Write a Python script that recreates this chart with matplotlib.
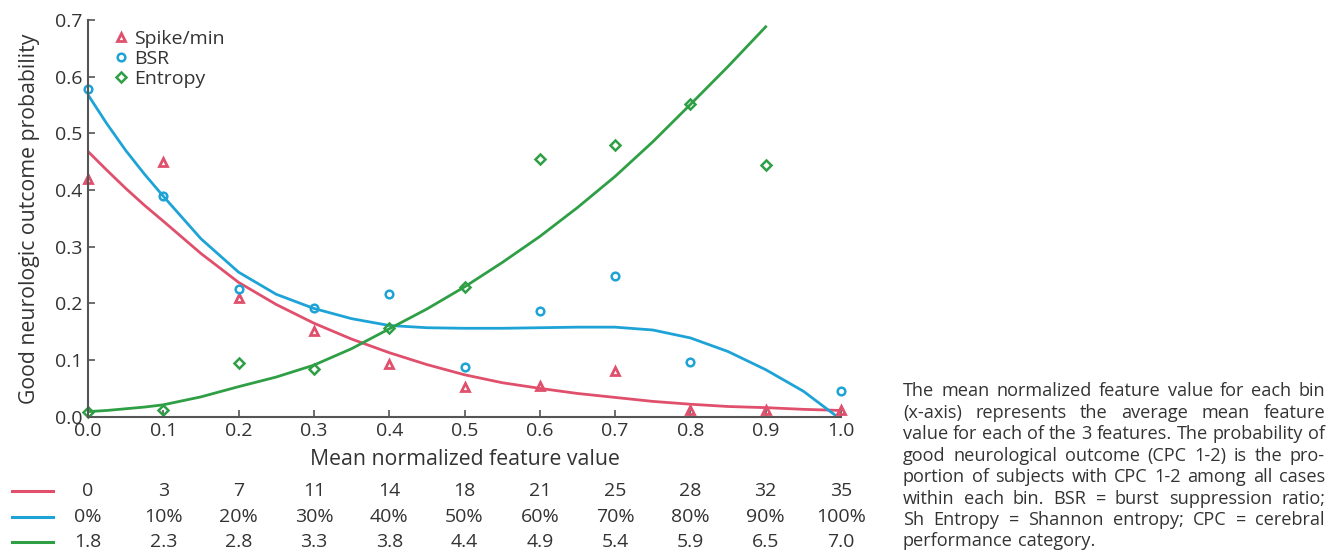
import numpy as np
import matplotlib
matplotlib.use("Agg")
import matplotlib.pyplot as plt
from matplotlib.lines import Line2D

plt.rcParams['font.family'] = ['Open Sans', 'DejaVu Sans']

# observed bin values
bins = [0.0, 0.1, 0.2, 0.3, 0.4, 0.5, 0.6, 0.7, 0.8, 0.9, 1.0]
spike_pts = [0.42, 0.45, 0.21, 0.151, 0.093, 0.053, 0.054, 0.08, 0.012, 0.012, 0.012]
bsr_x = [0.0, 0.1, 0.2, 0.3, 0.4, 0.5, 0.6, 0.7, 0.8, 1.0]
bsr_pts = [0.579, 0.389, 0.225, 0.191, 0.216, 0.087, 0.186, 0.249, 0.097, 0.045]
ent_x = [0.0, 0.1, 0.2, 0.3, 0.4, 0.5, 0.6, 0.7, 0.8, 0.9]
ent_pts = [0.009, 0.011, 0.095, 0.085, 0.157, 0.228, 0.454, 0.479, 0.551, 0.445]

# fitted curves
fit_x = [0.0, 0.025, 0.05, 0.075, 0.1, 0.15, 0.2, 0.25, 0.3, 0.35, 0.4, 0.45, 0.5,
         0.55, 0.6, 0.65, 0.7, 0.75, 0.8, 0.85, 0.9, 0.95, 1.0]
spike_fit = [0.468, 0.435, 0.403, 0.373, 0.345, 0.288, 0.237, 0.198, 0.165, 0.137, 0.113,
             0.092, 0.074, 0.060, 0.050, 0.041, 0.034, 0.027, 0.022, 0.018, 0.016, 0.013, 0.011]
bsr_fit_x = fit_x[:-1] + [0.992]
bsr_fit = [0.568, 0.517, 0.470, 0.428, 0.389, 0.314, 0.255, 0.216, 0.191, 0.173, 0.161,
           0.157, 0.156, 0.156, 0.157, 0.158, 0.158, 0.153, 0.139, 0.115, 0.083, 0.045, 0.003]
ent_fit_x = fit_x[:21]
ent_fit = [0.009, 0.011, 0.014, 0.017, 0.021, 0.035, 0.053, 0.070, 0.091, 0.120, 0.155,
           0.190, 0.229, 0.272, 0.318, 0.369, 0.424, 0.485, 0.551, 0.618, 0.688]

# table under the x axis
spike_row = ["0", "3", "7", "11", "14", "18", "21", "25", "28", "32", "35"]
bsr_row = ["0%", "10%", "20%", "30%", "40%", "50%", "60%", "70%", "80%", "90%", "100%"]
ent_row = ["1.8", "2.3", "2.8", "3.3", "3.8", "4.4", "4.9", "5.4", "5.9", "6.5", "7.0"]

caption = [
    "The mean normalized feature value for each bin",
    "(x-axis) represents the average mean feature",
    "value for each of the 3 features. The probability of",
    "good neurological outcome (CPC 1-2) is the pro-",
    "portion of subjects with CPC 1-2 among all cases",
    "within each bin. BSR = burst suppression ratio;",
    "Sh Entropy = Shannon entropy; CPC = cerebral",
    "performance category.",
]

red = '#e0506c'
blue = '#1ea3d6'
green = '#2f9f45'
txt = '#333333'

W, H = 1329, 551
fig = plt.figure(figsize=(W / 100, H / 100), dpi=100)
ax = fig.add_axes([88 / W, 1 - 416.7 / H, (841 - 88) / W, (416.7 - 20) / H])

ax.plot(fit_x, spike_fit, color=red, lw=2, solid_joinstyle='round')
ax.plot(bsr_fit_x, bsr_fit, color=blue, lw=2, solid_joinstyle='round')
ax.plot(ent_fit_x, ent_fit, color=green, lw=2, solid_joinstyle='round')

ax.plot(bins, spike_pts, ls='none', marker='^', ms=5.5, mfc='none', mec=red, mew=2,
        label='Spike/min', clip_on=False)
ax.plot(bsr_x, bsr_pts, ls='none', marker='o', ms=5.5, mfc='none', mec=blue, mew=1.8,
        label='BSR', clip_on=False)
ax.plot(ent_x, ent_pts, ls='none', marker='D', ms=5, mfc='none', mec=green, mew=1.8,
        label='Entropy', clip_on=False)

ax.set_xlim(0, 1.0)
ax.set_ylim(0, 0.7)
ax.set_xticks(bins)
ax.set_xticklabels([f"{v:.1f}" for v in bins])
ax.set_yticks(np.arange(0, 0.71, 0.1))
ax.set_yticklabels([f"{v:.1f}" for v in np.arange(0, 0.71, 0.1)])
for s in ['top', 'right']:
    ax.spines[s].set_visible(False)
for s in ['left', 'bottom']:
    ax.spines[s].set_color('#555555')
    ax.spines[s].set_linewidth(1.5)
ax.tick_params(direction='in', length=5, width=1.2, color='#555555',
               labelsize=14, labelcolor=txt, pad=4)
ax.set_xlabel("Mean normalized feature value", fontsize=15.3, color=txt, labelpad=6)
ax.set_ylabel("Good neurologic outcome probability", fontsize=15.3, color=txt, labelpad=11)

leg = ax.legend(loc='upper left', bbox_to_anchor=(0.025, 0.995), frameon=False,
                fontsize=14, handlelength=0.7, handletextpad=0.3, labelspacing=0.1,
                borderaxespad=0)
for t in leg.get_texts():
    t.set_color(txt)

# rows of raw feature values
tr = ax.get_xaxis_transform()
for row, y, col in [(spike_row, -0.187, red), (bsr_row, -0.252, blue), (ent_row, -0.315, green)]:
    for xv, lab in zip(bins, row):
        ax.text(xv, y, lab, transform=tr, ha='center', va='center', fontsize=14,
                color=txt, clip_on=False)
    yf = 1 - (416.7 + 396.7 * -y) / H
    fig.add_artist(Line2D([12 / W, 53 / W], [yf, yf], color=col, lw=2.2))

# justified caption on the right
renderer = fig.canvas.get_renderer()
left, right = 903, 1325
y0 = 391.5
step = 21.4
cap_size = 13.1
for i, line in enumerate(caption):
    words = line.split()
    yf = 1 - (y0 + i * step) / H
    objs = [fig.text(0, yf, w, fontsize=cap_size, color=txt, va='center') for w in words]
    widths = [o.get_window_extent(renderer).width for o in objs]
    if i == len(caption) - 1:
        sp = fig.text(0, 0, "a b", fontsize=cap_size).get_window_extent(renderer).width
        ab = fig.text(0, 0, "ab", fontsize=cap_size).get_window_extent(renderer).width
        gap = sp - ab
        fig.texts = fig.texts[:-2]
    else:
        gap = (right - left - sum(widths)) / (len(words) - 1)
    x = left
    for o, w in zip(objs, widths):
        o.set_x(x / W)
        x += w + gap

fig.savefig("out.png", dpi=100)
